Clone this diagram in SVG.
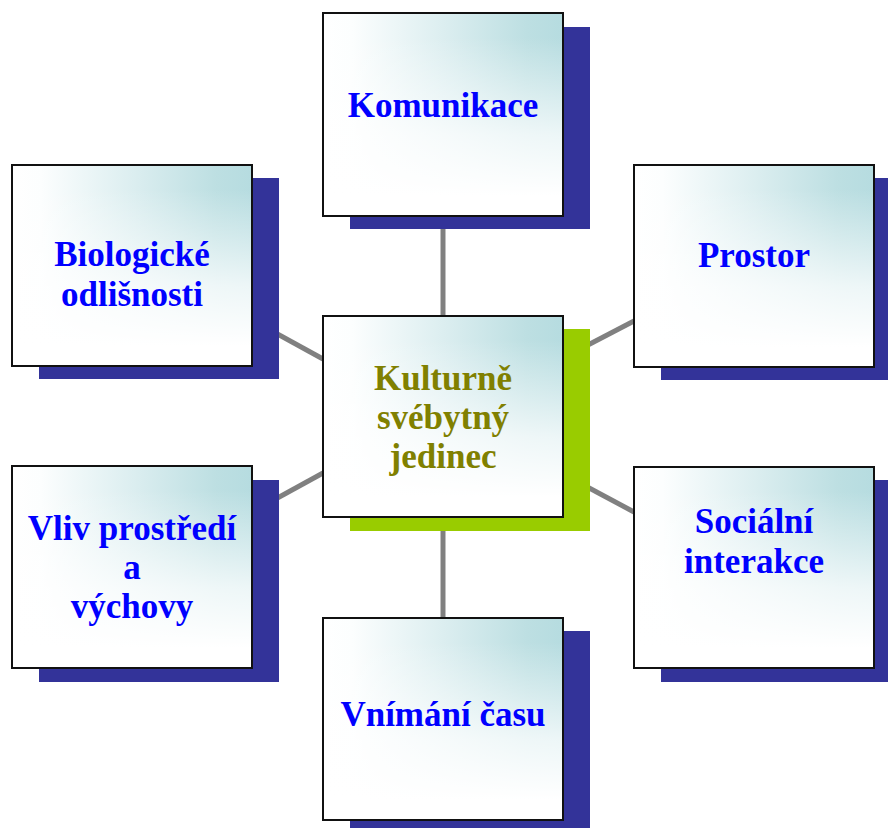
<svg xmlns="http://www.w3.org/2000/svg" width="888" height="828" viewBox="0 0 888 828">
<defs>
<linearGradient id="h" x1="0" y1="0" x2="1" y2="0">
<stop offset="0" stop-color="#FFFFFF"/>
<stop offset="0.12" stop-color="#FCFEFE"/>
<stop offset="0.5" stop-color="#DCEEF0"/>
<stop offset="0.85" stop-color="#BDDFE2"/>
<stop offset="1" stop-color="#B6DCE0"/>
</linearGradient>
<linearGradient id="v" x1="0" y1="0" x2="0" y2="1">
<stop offset="0" stop-color="#FFFFFF" stop-opacity="0"/>
<stop offset="0.12" stop-color="#FFFFFF" stop-opacity="0"/>
<stop offset="0.6" stop-color="#FFFFFF" stop-opacity="0.75"/>
<stop offset="0.9" stop-color="#FFFFFF" stop-opacity="1"/>
</linearGradient>
</defs>
<style>
.bg{fill:url(#h)}
.box{fill:url(#v);stroke:#111;stroke-width:2}
.sh{fill:#333399}
.shg{fill:#99CC00}
.t{font-family:"Liberation Serif","Times New Roman",serif;font-weight:bold;font-size:35px;fill:#0000FF;text-anchor:middle}
.tc{fill:#808000}
.c{stroke:#808080;stroke-width:5;fill:none}
</style>
<rect width="888" height="828" fill="#FFFFFF"/>
<g id="connectors">
<line class="c" x1="443" y1="216" x2="443" y2="316"/>
<line class="c" x1="443" y1="517" x2="443" y2="618"/>
<line class="c" x1="252" y1="320" x2="323" y2="359"/>
<line class="c" x1="252" y1="512" x2="323" y2="473"/>
<line class="c" x1="563" y1="358" x2="634" y2="321"/>
<line class="c" x1="563" y1="474" x2="634" y2="512"/>
</g>
<g id="n-komunikace">
<rect class="sh" x="350" y="27" width="240" height="202"/>
<rect class="bg" x="323" y="13" width="240" height="203"/>
<rect class="box" x="323" y="13" width="240" height="203"/>
<text class="t" x="443" y="117">Komunikace</text>
</g>
<g id="n-biologicke">
<rect class="sh" x="39" y="178" width="240" height="201"/>
<rect class="bg" x="12" y="165" width="240" height="201"/>
<rect class="box" x="12" y="165" width="240" height="201"/>
<text class="t" x="132" y="266">Biologické</text>
<text class="t" x="132" y="306">odlišnosti</text>
</g>
<g id="n-prostor">
<rect class="sh" x="661" y="178" width="240" height="202"/>
<rect class="bg" x="634" y="165" width="240" height="202"/>
<rect class="box" x="634" y="165" width="240" height="202"/>
<text class="t" x="754" y="267">Prostor</text>
</g>
<g id="n-center">
<rect class="shg" x="350" y="329" width="240" height="202"/>
<rect class="bg" x="323" y="316" width="240" height="201"/>
<rect class="box" x="323" y="316" width="240" height="201"/>
<text class="t tc" x="443" y="390">Kulturně</text>
<text class="t tc" x="443" y="429">svébytný</text>
<text class="t tc" x="443" y="468">jedinec</text>
</g>
<g id="n-vliv">
<rect class="sh" x="39" y="480" width="240" height="202"/>
<rect class="bg" x="12" y="466" width="240" height="202"/>
<rect class="box" x="12" y="466" width="240" height="202"/>
<text class="t" x="132" y="540">Vliv prostředí</text>
<text class="t" x="132" y="579">a</text>
<text class="t" x="132" y="618">výchovy</text>
</g>
<g id="n-socialni">
<rect class="sh" x="661" y="480" width="240" height="202"/>
<rect class="bg" x="634" y="467" width="240" height="201"/>
<rect class="box" x="634" y="467" width="240" height="201"/>
<text class="t" x="754" y="533">Sociální</text>
<text class="t" x="754" y="573">interakce</text>
</g>
<g id="n-cas">
<rect class="sh" x="350" y="631" width="240" height="202"/>
<rect class="bg" x="323" y="618" width="240" height="202"/>
<rect class="box" x="323" y="618" width="240" height="202"/>
<text class="t" x="443" y="726">Vnímání času</text>
</g>
</svg>
